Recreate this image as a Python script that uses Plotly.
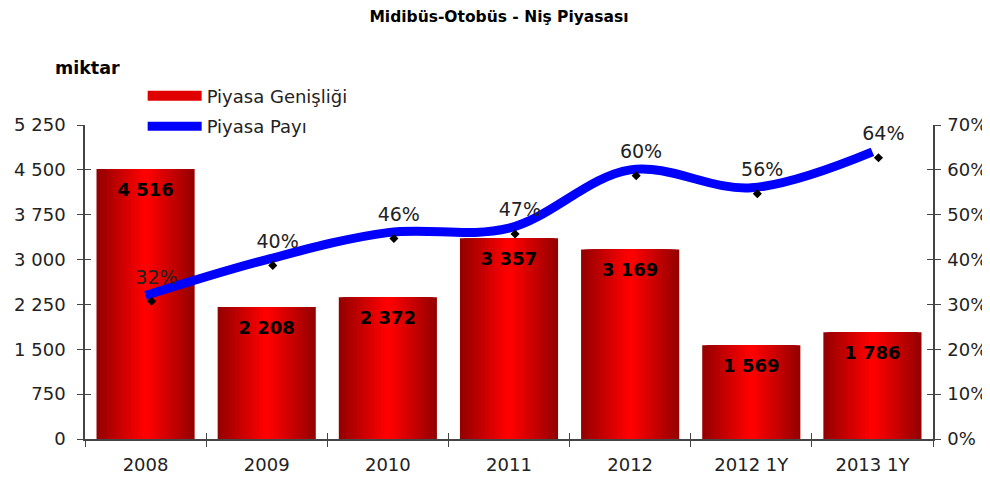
import plotly.graph_objects as go

categories = ["2008", "2009", "2010", "2011", "2012", "2012 1Y", "2013 1Y"]
market_size = [4516, 2208, 2372, 3357, 3169, 1569, 1786]
market_share = [32, 40, 46, 47, 60, 56, 64]
left_ticks = [0, 750, 1500, 2250, 3000, 3750, 4500, 5250]
right_ticks = [0, 10, 20, 30, 40, 50, 60, 70]
right_labels = ["0%", "10%", "20%", "30%", "40%", "50%", "60%", "70%"]

FONT = "DejaVu Sans, Verdana, sans-serif"
fig = go.Figure()

# gradient bars emulated by overlaid bars of decreasing width
N = 14
W = 0.81
dark = (150, 0, 0)
bright = (255, 0, 0)
for k in range(N):
    t = k / (N - 1)
    c = tuple(int(dark[i] + (bright[i] - dark[i]) * t) for i in range(3))
    fig.add_trace(go.Bar(
        x=categories, y=market_size,
        width=W * (1 - k / N),
        marker=dict(color="rgb(%d,%d,%d)" % c, line=dict(width=0)),
        name="Piyasa Genişliği",
        legendgroup="bars",
        showlegend=False,
        hoverinfo="skip" if k else "x+y",
    ))

# legend entry for the bars (wide red swatch)
fig.add_trace(go.Scatter(
    x=[None], y=[None], mode="lines",
    line=dict(color="#e00000", width=12),
    name="Piyasa Genişliği", legendgroup="bars",
))

# bar value labels
fig.add_trace(go.Scatter(
    x=categories, y=market_size, mode="markers+text",
    marker=dict(size=20, opacity=0),
    text=["{:,}".format(v).replace(",", " ") for v in market_size],
    textposition="bottom center",
    textfont=dict(family=FONT, size=18, color="black", weight="bold"),
    showlegend=False, hoverinfo="skip",
))

# share line
fig.add_trace(go.Scatter(
    x=categories, y=market_share, mode="lines",
    line=dict(color="#0000ff", width=9, shape="spline", smoothing=1.0),
    name="Piyasa Payı", legendgroup="share", yaxis="y2",
))

# markers (slightly offset, as in the original)
fig.add_trace(go.Scatter(
    x=categories, y=market_share, mode="markers",
    xaxis="x2", yaxis="y3",
    marker=dict(symbol="diamond", size=7, color="black"),
    showlegend=False, hoverinfo="skip",
))
# percentage labels
fig.add_trace(go.Scatter(
    x=categories, y=market_share, mode="markers+text",
    xaxis="x4", yaxis="y3",
    marker=dict(size=19, opacity=0),
    text=["%d%%" % v for v in market_share],
    textposition="top center",
    textfont=dict(family=FONT, size=19, color="#222222"),
    showlegend=False, hoverinfo="skip",
))

axis_common = dict(showgrid=False, zeroline=False, showline=True, automargin=False,
                   linecolor="#444444", linewidth=1.5,
                   ticks="outside", ticklen=6, tickcolor="#444444", tickwidth=1.3,
                   tickfont=dict(family=FONT, size=18, color="#222222"))
inner_ticks = dict(showgrid=False, zeroline=False, showline=False, automargin=False,
                   showticklabels=False, ticks="inside", ticklen=6,
                   tickcolor="#444444", tickwidth=1.3)
cat_axis = dict(type="category", categoryorder="array", categoryarray=categories)

# the page body has an 8px margin, so the figure is 8px smaller
fig.update_layout(
    width=982, height=471,
    margin=dict(l=77, r=57, t=117, b=40, autoexpand=False),
    paper_bgcolor="white", plot_bgcolor="white",
    barmode="overlay",
    separators=". ",
    title=dict(text="<b>Midibüs-Otobüs - Niş Piyasası</b>", x=0.5, xanchor="center",
               y=0.981, yanchor="middle",
               font=dict(family=FONT, size=15.5, color="black")),
    xaxis=dict(range=[-0.5, 6.5], tickson="boundaries", ticklabelstandoff=9,
               **cat_axis, **axis_common),
    xaxis2=dict(overlaying="x", range=[-0.55, 6.45], visible=False, **cat_axis),
    xaxis3=dict(overlaying="x", range=[-0.5, 6.5], tickson="boundaries",
                anchor="y", **cat_axis, **inner_ticks),
    xaxis4=dict(overlaying="x", range=[-0.59, 6.41], visible=False, **cat_axis),
    yaxis=dict(range=[0, 5250], tickvals=left_ticks, tickformat=",d",
               ticklabelstandoff=8, **axis_common),
    yaxis2=dict(range=[0, 70], tickvals=right_ticks, ticktext=right_labels,
                overlaying="y", side="right", ticklabelstandoff=3, **axis_common),
    yaxis3=dict(range=[1.3, 71.3], overlaying="y", visible=False),
    yaxis4=dict(range=[0, 5250], tickvals=left_ticks, overlaying="y",
                anchor="x", **inner_ticks),
    yaxis5=dict(range=[0, 70], tickvals=right_ticks, overlaying="y",
                side="right", anchor="x", **inner_ticks),
    legend=dict(x=0.068, y=1.151, xanchor="left", yanchor="top",
                bgcolor="rgba(0,0,0,0)", itemwidth=54, tracegroupgap=4,
                font=dict(family=FONT, size=18, color="#222222")),
    annotations=[dict(text="<b>miktar</b>", xref="paper", yref="paper",
                      x=-0.038, y=1.181, xanchor="left", yanchor="middle",
                      showarrow=False,
                      font=dict(family=FONT, size=17.5, color="black"))],
)

# dummy traces so the extra tick-only axes are drawn
fig.add_trace(go.Scatter(x=[None], y=[None], xaxis="x3", yaxis="y4",
                         showlegend=False, hoverinfo="skip"))
fig.add_trace(go.Scatter(x=[None], y=[None], xaxis="x3", yaxis="y5",
                         showlegend=False, hoverinfo="skip"))

fig.write_html("out.html")
